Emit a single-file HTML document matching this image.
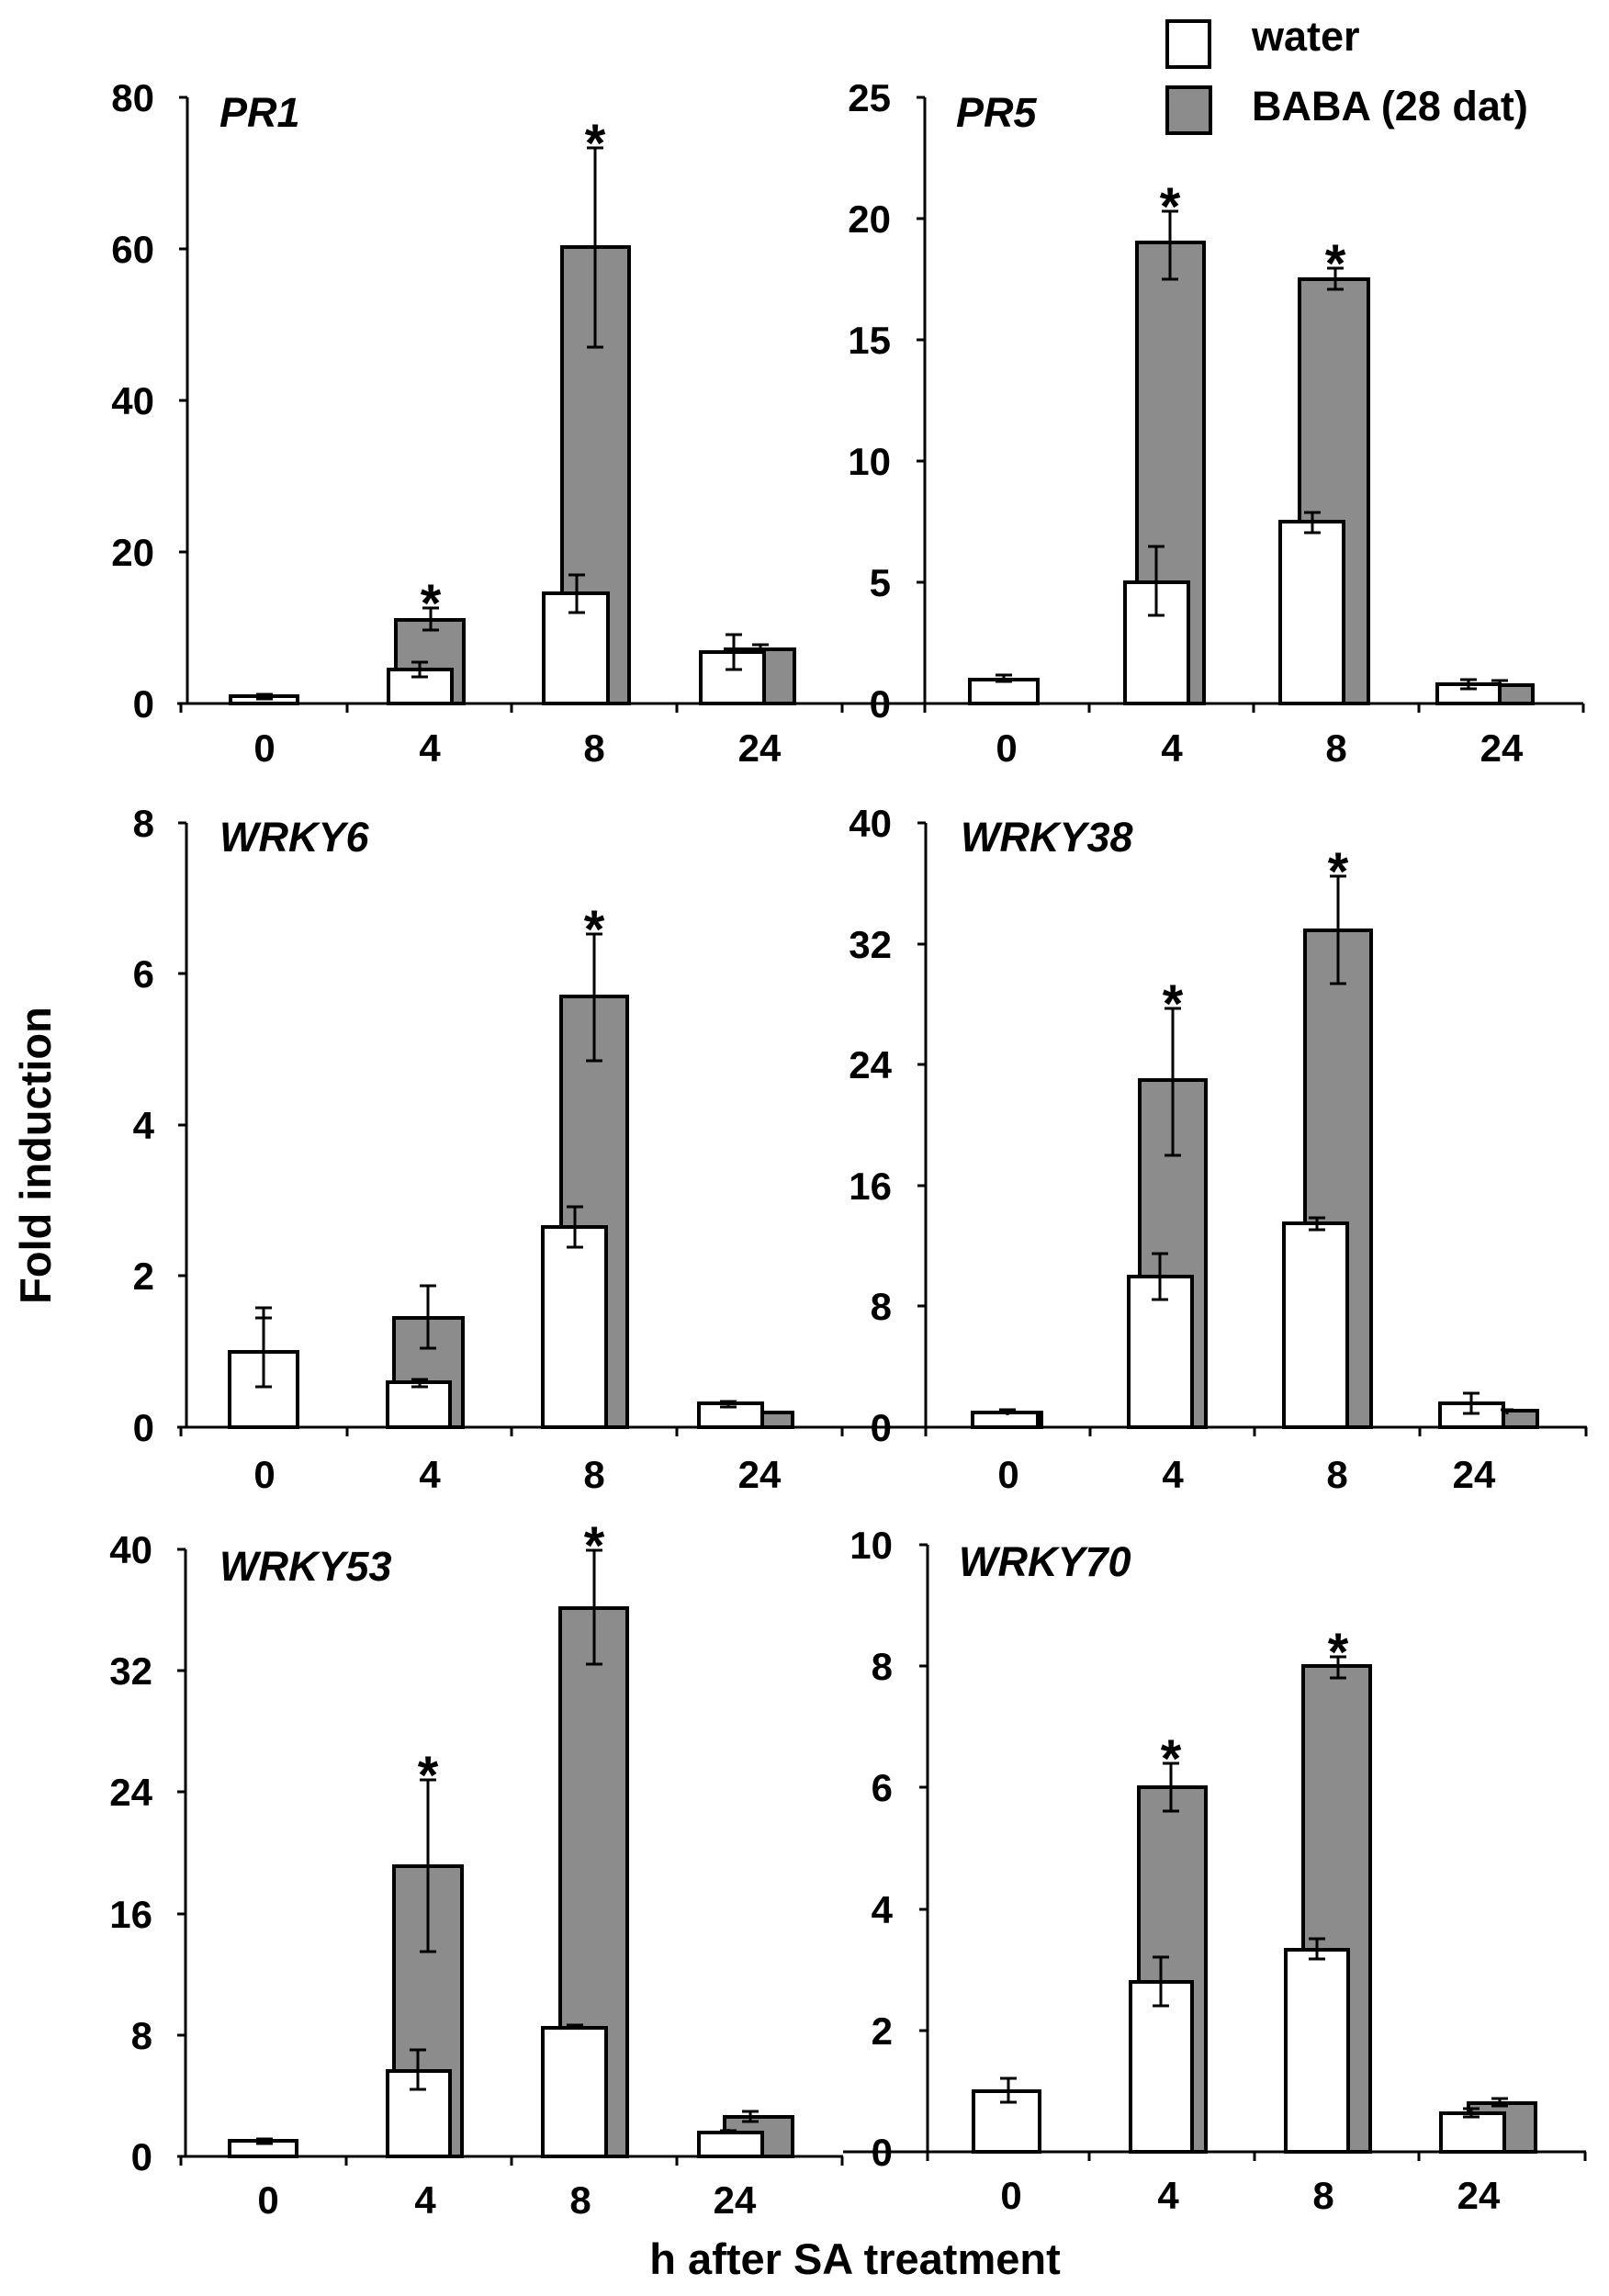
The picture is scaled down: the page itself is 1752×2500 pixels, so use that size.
<!DOCTYPE html>
<html><head><meta charset="utf-8"><style>
html,body{margin:0;padding:0;background:#fff}
svg{display:block}
text{font-family:"Liberation Sans",Arial,sans-serif;font-weight:bold;fill:#000}
.t{font-size:42px}
.ti{font-size:45px;font-style:italic}
.s{font-size:58px}
.w{fill:#fff;stroke:#000;stroke-width:4}
.g{fill:#8c8c8c;stroke:#000;stroke-width:4}
.ax{stroke:#000;stroke-width:3;fill:none}
.e{stroke:#000;stroke-width:3;fill:none}
</style></head><body>
<svg width="1752" height="2500" viewBox="0 0 1752 2500" xmlns="http://www.w3.org/2000/svg">
<rect width="1752" height="2500" fill="#fff"/>

<!-- Legend -->
<rect x="1271" y="23" width="46" height="50" class="w" stroke-width="3"/>
<rect x="1271" y="95" width="47" height="50" class="g" stroke-width="3"/>
<text x="1363" y="55" style="font-size:45px">water</text>
<text x="1363" y="131" style="font-size:45px">BABA (28 dat)</text>

<!-- Y label -->
<text transform="translate(55,1258) rotate(-90)" text-anchor="middle" style="font-size:47px">Fold induction</text>
<!-- X label -->
<text x="931" y="2476" text-anchor="middle" style="font-size:47px">h after SA treatment</text>

<!-- ============ PANEL 1 PR1 ============ -->
<g>
<rect x="790" y="707" width="75" height="59" class="g"/>
<rect x="431" y="675" width="74" height="91" class="g"/>
<rect x="612" y="269" width="73" height="497" class="g"/>
<rect x="251" y="758" width="73" height="8" class="w"/>
<rect x="423" y="729" width="69" height="37" class="w"/>
<rect x="592" y="646" width="70" height="120" class="w"/>
<rect x="763" y="710" width="69" height="56" class="w"/>
<path class="e" d="M288 756V761M279 756H297M279 761H297
M457 721V737M448 721H466M448 737H466
M628 626V667M619 626H637M619 667H637
M799 691V729M790 691H808M790 729H808
M469 662V686M460 662H478M460 686H478
M648 161V378M639 161H657M639 378H657
M828 702V712M819 702H837"/>
<text class="s" x="469" y="677" text-anchor="middle">*</text>
<text class="s" x="648" y="176" text-anchor="middle">*</text>
<path class="ax" d="M204 106V766M193 766H918M195 106H204M195 271H204M195 436H204M195 601H204
M197 766V776M378 766V776M557 766V776M737 766V776M917 766V776"/>
<text class="t" x="168" y="121" text-anchor="end">80</text>
<text class="t" x="168" y="286" text-anchor="end">60</text>
<text class="t" x="168" y="451" text-anchor="end">40</text>
<text class="t" x="168" y="616" text-anchor="end">20</text>
<text class="t" x="168" y="781" text-anchor="end">0</text>
<text class="ti" x="239" y="138">PR1</text>
<text class="t" x="288" y="829" text-anchor="middle">0</text>
<text class="t" x="468" y="829" text-anchor="middle">4</text>
<text class="t" x="647" y="829" text-anchor="middle">8</text>
<text class="t" x="827" y="829" text-anchor="middle">24</text>
</g>

<!-- ============ PANEL 2 PR5 ============ -->
<g>
<rect x="1238" y="264" width="73" height="502" class="g"/>
<rect x="1415" y="304" width="75" height="462" class="g"/>
<rect x="1600" y="746" width="69" height="20" class="g"/>
<rect x="1056" y="740" width="74" height="26" class="w"/>
<rect x="1225" y="634" width="69" height="132" class="w"/>
<rect x="1394" y="568" width="69" height="198" class="w"/>
<rect x="1565" y="745" width="68" height="21" class="w"/>
<path class="e" d="M1093 735V742M1084 735H1102M1084 742H1102
M1259 595V670M1250 595H1268M1250 670H1268
M1429 558V580M1420 558H1438M1420 580H1438
M1599 740V750M1590 740H1608M1590 750H1608
M1274 230V304M1265 230H1283M1265 304H1283
M1454 292V315M1445 292H1463M1445 315H1463
M1633 741V752M1624 741H1642"/>
<text class="s" x="1274" y="245" text-anchor="middle">*</text>
<text class="s" x="1454" y="307" text-anchor="middle">*</text>
<path class="ax" d="M1007 106V766M918 766H1724M998 106H1007M998 238H1007M998 370H1007M998 502H1007M998 634H1007
M1007 766V776M1186 766V776M1365 766V776M1545 766V776M1724 766V776"/>
<text class="t" x="970" y="121" text-anchor="end">25</text>
<text class="t" x="970" y="253" text-anchor="end">20</text>
<text class="t" x="970" y="385" text-anchor="end">15</text>
<text class="t" x="970" y="517" text-anchor="end">10</text>
<text class="t" x="970" y="649" text-anchor="end">5</text>
<text class="t" x="970" y="781" text-anchor="end">0</text>
<text class="ti" x="1041" y="138">PR5</text>
<text class="t" x="1096" y="829" text-anchor="middle">0</text>
<text class="t" x="1276" y="829" text-anchor="middle">4</text>
<text class="t" x="1455" y="829" text-anchor="middle">8</text>
<text class="t" x="1635" y="829" text-anchor="middle">24</text>
</g>

<!-- ============ PANEL 3 WRKY6 ============ -->
<g>
<rect x="429" y="1435" width="75" height="119" class="g"/>
<rect x="611" y="1085" width="72" height="469" class="g"/>
<rect x="790" y="1538" width="73" height="16" class="g"/>
<rect x="250" y="1472" width="74" height="82" class="w"/>
<rect x="422" y="1505" width="68" height="49" class="w"/>
<rect x="591" y="1336" width="69" height="218" class="w"/>
<rect x="761" y="1528" width="69" height="26" class="w"/>
<path class="e" d="M287 1424V1510M278 1424H296M278 1435H296M278 1510H296
M457 1502V1510M448 1502H466M448 1510H466
M626 1314V1358M617 1314H635M617 1358H635
M793 1526V1532M784 1526H802M784 1532H802
M466 1400V1468M457 1400H475M457 1468H475
M647 1017V1155M638 1017H656M638 1155H656"/>
<text class="s" x="647" y="1032" text-anchor="middle">*</text>
<path class="ax" d="M203 896V1554M193 1554H918M194 896H203M194 1060H203M194 1225H203M194 1389H203
M197 1554V1564M378 1554V1564M557 1554V1564M737 1554V1564M917 1554V1564"/>
<text class="t" x="168" y="911" text-anchor="end">8</text>
<text class="t" x="168" y="1075" text-anchor="end">6</text>
<text class="t" x="168" y="1240" text-anchor="end">4</text>
<text class="t" x="168" y="1404" text-anchor="end">2</text>
<text class="t" x="168" y="1569" text-anchor="end">0</text>
<text class="ti" x="239" y="927">WRKY6</text>
<text class="t" x="288" y="1620" text-anchor="middle">0</text>
<text class="t" x="468" y="1620" text-anchor="middle">4</text>
<text class="t" x="647" y="1620" text-anchor="middle">8</text>
<text class="t" x="827" y="1620" text-anchor="middle">24</text>
</g>

<!-- ============ PANEL 4 WRKY38 ============ -->
<g>
<rect x="1090" y="1538" width="44" height="16" class="g"/>
<rect x="1241" y="1176" width="72" height="378" class="g"/>
<rect x="1421" y="1013" width="72" height="541" class="g"/>
<rect x="1610" y="1536" width="64" height="18" class="g"/>
<rect x="1059" y="1538" width="71" height="16" class="w"/>
<rect x="1229" y="1390" width="69" height="164" class="w"/>
<rect x="1398" y="1332" width="69" height="222" class="w"/>
<rect x="1568" y="1528" width="69" height="26" class="w"/>
<path class="e" d="M1097 1535V1541M1088 1535H1106
M1263 1365V1415M1254 1365H1272M1254 1415H1272
M1434 1326V1339M1425 1326H1443M1425 1339H1443
M1602 1517V1539M1593 1517H1611M1593 1539H1611
M1277 1098V1258M1268 1098H1286M1268 1258H1286
M1457 954V1071M1448 954H1466M1448 1071H1466
M1641 1535V1540M1634 1535H1648"/>
<text class="s" x="1277" y="1113" text-anchor="middle">*</text>
<text class="s" x="1457" y="969" text-anchor="middle">*</text>
<path class="ax" d="M1008 896V1554M918 1554H1728M999 896H1008M999 1028H1008M999 1159H1008M999 1291H1008M999 1422H1008
M1008 1554V1564M1187 1554V1564M1366 1554V1564M1546 1554V1564M1727 1554V1564"/>
<text class="t" x="971" y="911" text-anchor="end">40</text>
<text class="t" x="971" y="1043" text-anchor="end">32</text>
<text class="t" x="971" y="1174" text-anchor="end">24</text>
<text class="t" x="971" y="1306" text-anchor="end">16</text>
<text class="t" x="971" y="1437" text-anchor="end">8</text>
<text class="t" x="971" y="1569" text-anchor="end">0</text>
<text class="ti" x="1046" y="927">WRKY38</text>
<text class="t" x="1098" y="1620" text-anchor="middle">0</text>
<text class="t" x="1277" y="1620" text-anchor="middle">4</text>
<text class="t" x="1456" y="1620" text-anchor="middle">8</text>
<text class="t" x="1605" y="1620" text-anchor="middle">24</text>
</g>

<!-- ============ PANEL 5 WRKY53 ============ -->
<g>
<rect x="429" y="2032" width="74" height="316" class="g"/>
<rect x="610" y="1751" width="73" height="597" class="g"/>
<rect x="789" y="2305" width="74" height="43" class="g"/>
<rect x="250" y="2331" width="73" height="17" class="w"/>
<rect x="422" y="2255" width="68" height="93" class="w"/>
<rect x="591" y="2208" width="69" height="140" class="w"/>
<rect x="761" y="2322" width="69" height="26" class="w"/>
<path class="e" d="M288 2329V2334M279 2329H297M279 2334H297
M455 2232V2275M446 2232H464M446 2275H464
M626 2205V2209M617 2205H635
M793 2318V2322M784 2320H802
M466 1938V2125M457 1938H475M457 2125H475
M647 1688V1812M638 1688H656M638 1812H656
M817 2299V2310M808 2299H826M808 2310H826"/>
<text class="s" x="466" y="1953" text-anchor="middle">*</text>
<text class="s" x="647" y="1703" text-anchor="middle">*</text>
<path class="ax" d="M202 1687V2348M193 2348H918M193 1687H202M193 1819H202M193 1951H202M193 2084H202M193 2216H202
M197 2348V2358M377 2348V2358M557 2348V2358M737 2348V2358M917 2348V2358"/>
<text class="t" x="166" y="1702" text-anchor="end">40</text>
<text class="t" x="166" y="1834" text-anchor="end">32</text>
<text class="t" x="166" y="1966" text-anchor="end">24</text>
<text class="t" x="166" y="2099" text-anchor="end">16</text>
<text class="t" x="166" y="2231" text-anchor="end">8</text>
<text class="t" x="166" y="2363" text-anchor="end">0</text>
<text class="ti" x="239" y="1721">WRKY53</text>
<text class="t" x="292" y="2410" text-anchor="middle">0</text>
<text class="t" x="463" y="2410" text-anchor="middle">4</text>
<text class="t" x="632" y="2410" text-anchor="middle">8</text>
<text class="t" x="800" y="2410" text-anchor="middle">24</text>
</g>

<!-- ============ PANEL 6 WRKY70 ============ -->
<g>
<rect x="1240" y="1946" width="73" height="397" class="g"/>
<rect x="1419" y="1814" width="73" height="529" class="g"/>
<rect x="1599" y="2290" width="73" height="53" class="g"/>
<rect x="1060" y="2277" width="72" height="66" class="w"/>
<rect x="1231" y="2158" width="67" height="185" class="w"/>
<rect x="1400" y="2123" width="68" height="220" class="w"/>
<rect x="1569" y="2301" width="69" height="42" class="w"/>
<path class="e" d="M1098 2263V2289M1089 2263H1107M1089 2289H1107
M1264 2131V2184M1255 2131H1273M1255 2184H1273
M1434 2111V2133M1425 2111H1443M1425 2133H1443
M1602 2296V2305M1593 2296H1611M1593 2305H1611
M1275 1920V1972M1266 1920H1284M1266 1972H1284
M1457 1804V1827M1448 1804H1466M1448 1827H1466
M1633 2285V2293M1624 2285H1642M1624 2293H1642"/>
<text class="s" x="1275" y="1935" text-anchor="middle">*</text>
<text class="s" x="1457" y="1819" text-anchor="middle">*</text>
<path class="ax" d="M1010 1682V2343M918 2343H1727M1001 1682H1010M1001 1814H1010M1001 1946H1010M1001 2079H1010M1001 2211H1010
M1010 2343V2353M1186 2343V2353M1366 2343V2353M1545 2343V2353M1726 2343V2353"/>
<text class="t" x="972" y="1697" text-anchor="end">10</text>
<text class="t" x="972" y="1829" text-anchor="end">8</text>
<text class="t" x="972" y="1961" text-anchor="end">6</text>
<text class="t" x="972" y="2094" text-anchor="end">4</text>
<text class="t" x="972" y="2226" text-anchor="end">2</text>
<text class="t" x="972" y="2358" text-anchor="end">0</text>
<text class="ti" x="1044" y="1716">WRKY70</text>
<text class="t" x="1101" y="2405" text-anchor="middle">0</text>
<text class="t" x="1272" y="2405" text-anchor="middle">4</text>
<text class="t" x="1441" y="2405" text-anchor="middle">8</text>
<text class="t" x="1610" y="2405" text-anchor="middle">24</text>
</g>
</svg>
</body></html>
